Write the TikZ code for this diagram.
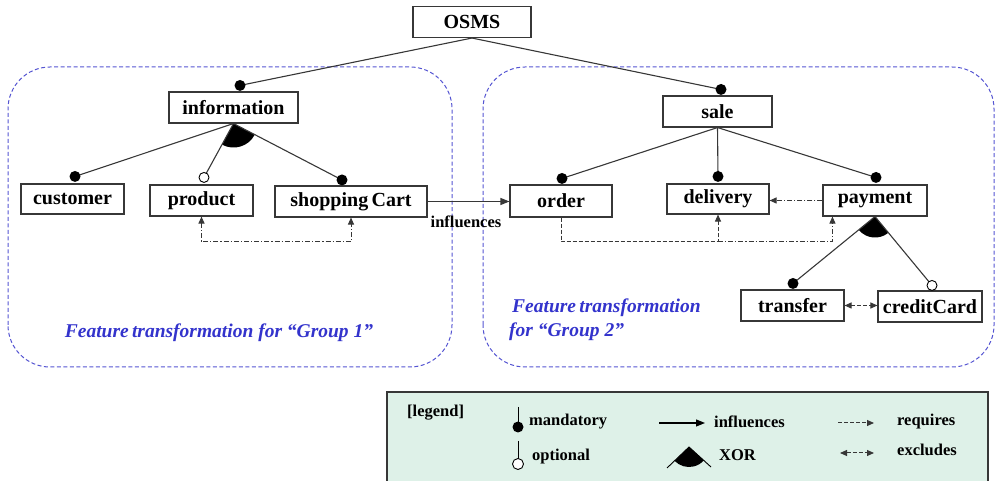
\documentclass[tikz,border=0pt]{standalone}
\usepackage{fontspec}
\setmainfont{Liberation Serif}
\usetikzlibrary{arrows.meta,calc}
\definecolor{grp}{RGB}{85,85,210}
\definecolor{lbl}{RGB}{51,51,204}
\definecolor{legfill}{RGB}{222,241,232}
\definecolor{ln}{RGB}{55,55,55}
\begin{document}
\begin{tikzpicture}[x=1pt,y=1pt,
  feat/.style={draw=ln,line width=1.1pt,fill=white,inner sep=0pt,minimum height=31pt,font=\bfseries\fontsize{20}{24}\selectfont},
  edge/.style={draw=ln,line width=1.1pt},
  grpbox/.style={draw=grp,line width=1pt,dash pattern=on 4pt off 2.5pt,rounded corners=42pt},
  grplabel/.style={text=lbl,font=\bfseries\itshape\fontsize{19.5}{24}\selectfont,inner sep=0pt},
  ddot/.style={dash pattern=on 5pt off 2pt on 1.2pt off 2pt,line width=1pt,draw=ln},
  dsh/.style={dash pattern=on 4pt off 2pt,line width=1pt,draw=ln},
  tip/.style={-{Triangle[length=9pt,width=7pt]}},
  smalltip/.style={-{Triangle[length=7pt,width=6pt]}},
  bothtip/.style={{Triangle[length=7pt,width=6pt]}-{Triangle[length=7pt,width=6pt]}},
  legtext/.style={font=\bfseries\fontsize{16.5}{20}\selectfont,inner sep=0pt,anchor=west},
  mdot/.style={fill=black},
  odot/.style={fill=white,draw=black,line width=0.9pt}
]
\useasboundingbox (0,0) rectangle (995,481);

% group frames
\draw[grpbox] (8,114) rectangle (452,414);
\draw[grpbox] (483,114) rectangle (994,414);

% features
\node[feat,minimum width=118pt] (osms) at (472,459) {OSMS};
\node[feat,minimum width=129pt] (information) at (233.5,373.5) {information};
\node[feat,minimum width=103pt,minimum height=30pt] (customer) at (72.5,282) {customer};
\node[feat,minimum width=103pt] (product) at (201.5,280.5) {product};
\node[feat,minimum width=152pt] (cart) at (351,279.5) {shopping\,Cart};
\node[feat,minimum width=109pt] (sale) at (717.5,369.5) {sale};
\node[feat,minimum width=102pt,minimum height=32pt] (order) at (561,280) {order};
\node[feat,minimum width=102pt,minimum height=30pt] (delivery) at (718,282) {delivery};
\node[feat,minimum width=104pt] (payment) at (875,280.5) {payment};
\node[feat,minimum width=103pt] (transfer) at (792.5,175.5) {transfer};
\node[feat,minimum width=104pt] (creditcard) at (930,174.5) {creditCard};

% attachment points
\coordinate (dInfo) at ($(information.north)+(6.5,6)$);
\coordinate (dSale) at ($(sale.north)+(3.5,6)$);
\coordinate (dCust) at ($(customer.north)+(2.5,7)$);
\coordinate (dProd) at ($(product.north)+(2.5,7)$);
\coordinate (dCart) at ($(cart.north)+(-9,5.5)$);
\coordinate (dOrder) at ($(order.north)+(1,6)$);
\coordinate (dDeliv) at ($(delivery.north)+(0,7)$);
\coordinate (dPay) at ($(payment.north)+(1,7)$);
\coordinate (dTrans) at ($(transfer.north)+(0.5,6)$);
\coordinate (dCC) at ($(creditcard.north)+(2,5)$);

% XOR sectors
\fill (information.south) -- ++(242:24) arc[start angle=242,end angle=332,radius=24] -- cycle;
\fill (payment.south) -- ++(220:21) arc[start angle=220,end angle=309,radius=21] -- cycle;

% tree edges
\draw[edge] (osms.south) -- (dInfo);
\draw[edge] (osms.south) -- (dSale);
\draw[edge] (information.south) -- (dCust);
\draw[edge] (information.south) -- (dProd);
\draw[edge] (information.south) -- (dCart);
\draw[edge] (sale.south) -- (dOrder);
\draw[edge] (sale.south) -- (dDeliv);
\draw[edge] (sale.south) -- (dPay);
\draw[edge] (payment.south) -- (dTrans);
\draw[edge] (payment.south) -- (dCC);

% dots
\fill[mdot] (dInfo) circle (5.5pt);
\fill[mdot] (dSale) circle (5.5pt);
\fill[mdot] (dCust) circle (5.5pt);
\filldraw[odot] (dProd) circle (5pt);
\fill[mdot] (dCart) circle (5.5pt);
\fill[mdot] (dOrder) circle (5.5pt);
\fill[mdot] (dDeliv) circle (5.5pt);
\fill[mdot] (dPay) circle (5.5pt);
\fill[mdot] (dTrans) circle (5.5pt);
\filldraw[odot] (dCC) circle (5pt);

% influences
\draw[edge,tip] (cart.east) -- (order.west |- cart.east);
\node[legtext,anchor=center] (inflbl) at (466,259) {influences};

% group 1 cross-tree constraint
\coordinate (g1low) at (0,239);
\draw[ddot,bothtip] (product.south) -- (product.south |- g1low) -- (cart.south |- g1low) -- (cart.south);

% group 2 cross-tree constraints
\coordinate (g2low) at (0,239);
\coordinate (payIn) at ($(payment.south west)+(10,0)$);
\draw[dsh,smalltip] (order.south) -- (order.south |- g2low) -- (delivery.south |- g2low) -- (delivery.south);
\draw[ddot,smalltip] (delivery.south |- g2low) -- (payIn |- g2low) -- (payIn);
\draw[ddot,smalltip] (payment.west) -- (delivery.east |- payment.west);
\draw[dsh,bothtip] (transfer.east) -- (creditcard.west |- transfer.east);

% group labels
\node[grplabel] (g1lbl) at (219,148) {Feature\,transformation for “Group 1”};
\node[grplabel,anchor=west,align=left] (g2lbl) at (509,161) {\hspace*{3pt}Feature\,transformation\\for “Group 2”};

% legend
\draw[draw=ln,line width=1.2pt,fill=legfill] (387,-5) rectangle (988,89);
\node[legtext] (leglbl) at (407,68) {[legend]};

\coordinate (mTop) at (518,74);
\coordinate (mDot) at (518,54);
\draw[line width=1pt] (mTop) -- (mDot);
\fill (mDot) circle (5.5pt);
\node[legtext] (mtext) at (529,59) {mandatory};

\coordinate (oTop) at (518,40);
\coordinate (oDot) at (518,17);
\draw[line width=1pt] (oTop) -- (oDot);
\filldraw[odot] (oDot) circle (5.5pt);
\node[legtext] (otext) at (532,24) {optional};

\coordinate (iA) at (659,58);
\coordinate (iB) at (705,58);
\draw[line width=1.1pt,tip] (iA) -- (iB);
\node[legtext] (itext) at (714,59) {influences};

\coordinate (xApex) at (689,34);
\coordinate (xL) at (667,13);
\coordinate (xR) at (711,14);
\fill (xApex) -- ++(224:20) arc[start angle=224,end angle=318,radius=20] -- cycle;
\draw[line width=0.9pt] (xL) -- (xApex) -- (xR);
\node[legtext] (xtext) at (719,26) {XOR};

\coordinate (rA) at (838,58);
\coordinate (rB) at (874,58);
\draw[dsh,smalltip] (rA) -- (rB);
\node[legtext] (rtext) at (897,59) {requires};

\coordinate (eA) at (840,28);
\coordinate (eB) at (874,28);
\draw[dsh,bothtip] (eA) -- (eB);
\node[legtext] (etext) at (897,31) {excludes};
\end{tikzpicture}
\end{document}
